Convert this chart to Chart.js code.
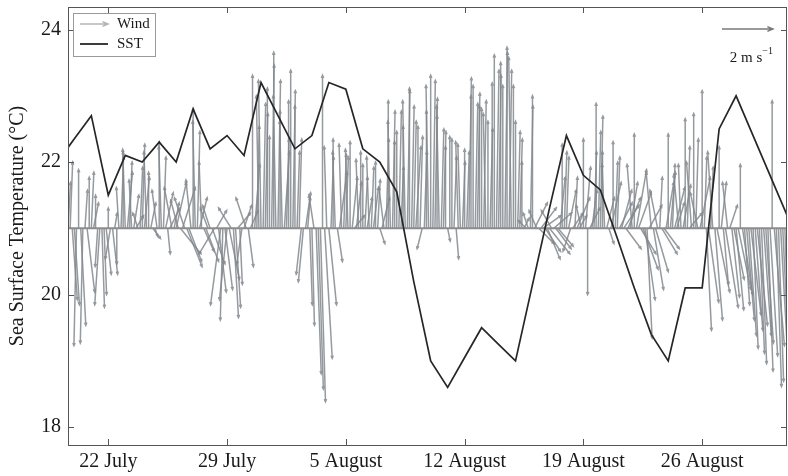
<!DOCTYPE html>
<html>
<head>
<meta charset="utf-8">
<script src="https://cdn.jsdelivr.net/npm/chart.js@4.4.0/dist/chart.umd.min.js"></script>
<style>
  html, body { margin: 0; padding: 0; background: #fff; }
</style>
</head>
<body>
<canvas id="sstChart" width="788" height="476"></canvas>
<script>
// days counted from 1 July (1 August = 32)
const sstDay = [19, 20, 21, 22, 23, 24, 25, 26, 27, 28, 29, 30, 31, 32, 33, 34, 35, 36, 37, 38, 39, 40,
                41, 42, 43, 44, 45, 46, 47, 48, 49, 50, 51, 52, 53, 54, 55, 56, 57, 58, 59, 60, 61, 62];
const sstValue = [22.0, 22.35, 22.7, 21.5, 22.1, 22.0, 22.3, 22.0, 22.8, 22.2, 22.4, 22.1, 23.2, 22.7, 22.2, 22.4,
                  23.2, 23.1, 22.2, 22.0, 21.55, 20.2, 19.0, 18.6, 19.05, 19.5, 19.25, 19.0, 20.15, 21.3, 22.4,
                  21.8, 21.58, 20.85, 20.1, 19.4, 19.0, 20.1, 20.1, 22.5, 23.0, 22.4, 21.8, 21.2];

// wind samples, 3-hourly: one row per day, columns = windHour
const windDay = [19, 20, 21, 22, 23, 24, 25, 26, 27, 28, 29, 30, 31, 32, 33, 34, 35, 36, 37, 38, 39, 40,
                 41, 42, 43, 44, 45, 46, 47, 48, 49, 50, 51, 52, 53, 54, 55, 56, 57, 58, 59, 60, 61, 62];
const windHour = [0, 3, 6, 9, 12, 15, 18, 21];
// northward component (m/s)
const windV = [
  [null, null, null, null, null, 1.8, 2.6, -2.8],
  [-3.0, -4.6, 2.3, -3.8, -4.5, 1.5, -2.5, 2.0],
  [2.2, 1.0, 1.3, -1.5, -3.0, -3.1, -2.6, -1.8],
  [0.8, -1.2, -1.8, 0.6, -1.4, 1.6, 2.8, 3.0],
  [3.1, 2.2, 2.6, 1.9, 1.3, 0.5, 0.6, 2.4],
  [3.3, 2.0, 3.0, 2.2, 1.0, -0.4, -0.3, 1.5],
  [3.4, 3.2, 2.8, 1.4, -1.0, 0.8, 1.6, 1.0],
  [1.8, 1.1, -1.0, 1.6, 1.2, -1.5, -1.3, 1.9],
  [4.7, 4.2, 3.8, 1.2, 2.6, -0.9, -1.3, 0.8],
  [0.9, -1.4, -1.0, 0.7, -2.5, -3.0, -3.6, -2.4],
  [-2.8, -2.0, 0.8, -3.5, -3.1, 0.6, -2.2, -1.4],
  [0.9, 1.2, -1.5, 0.7, 6.0, 2.5, 4.0, 5.2],
  [5.8, 4.9, 4.5, 5.5, 3.6, 6.4, 6.9, 5.2],
  [5.8, 4.6, 4.2, 3.0, 3.5, 5.0, 6.2, 5.4],
  [4.8, 3.0, 3.5, -1.8, -2.1, 1.4, 1.2, -3.0],
  [-3.8, 1.3, -5.7, -6.3, -6.8, 6.0, -5.1, 3.2],
  [-3.0, 2.8, 3.5, 3.0, -1.3, 2.2, 3.3, 2.9],
  [2.8, 3.1, 3.4, 2.0, 0.5, 1.8, 2.7, 3.0],
  [2.5, 2.0, 1.2, 2.8, 2.4, 1.6, 2.6, 1.9],
  [-0.6, 1.2, 1.6, 3.5, 5.0, 4.2, 4.6, 3.4],
  [3.8, 4.6, 2.4, 4.0, 5.0, 5.4, 5.5, 4.8],
  [4.2, 3.2, 4.0, 3.6, -0.8, 3.0, 4.6, 5.6],
  [6.0, 5.8, 5.1, 4.4, 4.8, 3.9, 3.8, 3.2],
  [-0.5, 3.6, 3.5, 2.8, -1.2, 3.4, 3.3, 2.6],
  [3.1, 3.0, 5.9, 5.2, 5.6, 4.9, 5.3, 4.8],
  [4.7, 5.0, 4.5, 4.2, 3.9, 5.7, 6.8, 6.2],
  [6.0, 6.5, 5.6, 6.9, 7.1, 6.2, 6.7, 5.6],
  [4.2, 3.8, 3.5, 2.6, 0.4, 0.3, 0.6, 4.8],
  [5.2, 1.0, 0.7, -0.6, 0.8, 0.5, -0.9, -1.2],
  [-1.0, 0.7, 0.6, -0.8, -0.7, 2.0, 3.3, 3.0],
  [2.8, 1.5, -0.9, 0.6, 2.0, 1.2, 0.5, 0.9],
  [3.5, 2.4, -2.6, 0.8, 1.5, 3.0, 4.9, 3.8],
  [4.4, 3.0, 2.5, 1.2, -0.6, 1.8, 3.4, 2.6],
  [2.8, 1.0, 1.5, 0.9, -0.8, 1.2, 1.8, 2.5],
  [3.7, 2.3, 1.4, -1.0, -1.6, -2.8, -4.3, 0.9],
  [2.2, -2.4, -1.7, 1.5, 2.0, -1.0, -0.8, 1.8],
  [3.7, 2.2, 2.5, 1.6, 1.0, 2.1, 2.5, 1.7],
  [4.3, 3.2, 0.6, 2.6, 4.5, 3.5, 1.4, 2.0],
  [5.4, 2.8, -4.0, -2.9, 2.4, 3.0, -3.6, -2.5],
  [3.2, 1.8, -2.2, -3.1, 1.8, 0.9, -2.7, -2.0],
  [-3.2, -2.4, 2.5, -2.6, -3.0, -3.6, -4.2, -3.4],
  [-4.7, -4.0, -3.8, -4.9, -5.3, -4.2, -4.5, -5.6],
  [-5.0, 5.0, -4.6, -6.2, -6.0, -5.4, -6.3, -5.8],
  [-5.0]
];
// eastward component (m/s)
const windU = [
  [null, null, null, null, null, 0.1, 0.1, 0.2],
  [0.2, -0.1, 0.0, 0.2, -0.1, 0.1, 0.3, 0.0],
  [0.1, 0.2, 0.0, -0.1, -0.2, 0.1, 0.1, 0.2],
  [0.0, -0.2, 0.2, 0.1, 0.0, -0.1, 0.1, 0.0],
  [-0.1, 0.2, 0.1, -0.1, 0.2, 0.3, -0.2, 0.1],
  [0.1, 0.2, -0.1, 0.0, 0.2, 0.3, 0.1, -0.2],
  [0.0, -0.1, 0.1, 0.3, 0.1, 0.4, -0.3, 0.2],
  [0.4, -0.3, 0.8, 0.5, -0.4, 0.6, 0.5, -0.2],
  [0.0, -0.1, 0.1, 0.3, -0.1, 0.4, 0.5, -0.3],
  [-0.3, 0.5, -0.6, 0.4, 0.3, -0.4, -0.1, 0.3],
  [-0.3, 0.4, -0.5, 0.2, 0.2, 0.5, 0.1, -0.2],
  [0.3, -0.4, 0.2, 0.3, 0.0, 0.2, 0.1, -0.1],
  [-0.1, 0.1, 0.1, 0.0, 0.0, 0.1, 0.0, -0.1],
  [0.1, 0.0, -0.1, 0.2, 0.1, 0.0, 0.0, 0.1],
  [0.0, 0.1, 0.1, -0.2, -0.2, 0.2, 0.1, 0.1],
  [0.1, -0.2, 0.2, 0.2, 0.2, 0.0, 0.3, -0.1],
  [0.3, 0.1, 0.0, -0.1, 0.2, 0.3, -0.1, 0.1],
  [0.1, -0.1, 0.0, 0.2, 0.4, 0.2, -0.1, 0.0],
  [0.0, 0.1, 0.2, -0.1, 0.1, 0.2, 0.0, 0.1],
  [0.2, 0.3, -0.2, 0.1, 0.0, -0.1, 0.1, 0.0],
  [0.0, 0.1, 0.1, 0.0, -0.1, 0.1, 0.0, 0.1],
  [0.1, 0.2, 0.0, 0.1, -0.2, 0.1, 0.0, -0.1],
  [0.0, 0.1, 0.1, 0.0, -0.1, 0.1, 0.1, 0.0],
  [0.1, 0.0, 0.0, 0.1, 0.1, -0.1, -0.1, 0.1],
  [0.0, 0.1, 0.1, 0.0, 0.0, 0.1, 0.1, 0.0],
  [0.0, 0.1, -0.1, 0.0, 0.1, 0.0, 0.0, 0.1],
  [0.1, 0.0, 0.0, 0.1, 0.0, 0.1, -0.1, 0.0],
  [0.0, 0.1, 0.1, 0.0, 0.2, -0.3, -0.2, 0.1],
  [0.0, 0.5, -0.3, 0.6, 0.6, 0.7, 0.6, 0.5],
  [0.8, -0.4, 0.7, 0.6, 0.6, 0.2, 0.0, 0.1],
  [0.1, 0.3, -0.3, 0.4, 0.1, 0.5, 0.3, -0.2],
  [0.0, 0.2, 0.0, 0.4, 0.2, 0.1, 0.0, 0.1],
  [0.1, 0.0, -0.1, 0.3, 0.2, 0.4, 0.0, 0.1],
  [0.1, 0.5, 0.4, 0.6, 0.6, 0.5, 0.3, -0.2],
  [0.0, 0.4, 0.5, 0.6, 0.6, 0.4, 0.2, 0.5],
  [-0.2, 0.4, 0.5, -0.3, 0.1, 0.6, 0.6, 0.3],
  [0.0, 0.2, 0.1, 0.4, 0.3, -0.2, -0.1, 0.3],
  [0.0, 0.1, 0.5, -0.2, 0.0, 0.1, -0.3, 0.4],
  [0.0, 0.1, 0.2, 0.4, 0.1, -0.2, 0.3, 0.5],
  [0.0, 0.2, 0.2, 0.5, -0.2, 0.3, 0.3, 0.4],
  [0.3, 0.5, 0.0, 0.4, 0.2, 0.3, 0.3, 0.4],
  [0.2, 0.3, 0.4, 0.2, 0.2, 0.3, 0.3, 0.2],
  [0.3, 0.0, 0.4, 0.2, 0.2, 0.3, 0.3, 0.2],
  [0.2]
];

const tickDays = [22, 29, 36, 43, 50, 57];
const tickLabels = ['22 July', '29 July', '5 August', '12 August', '19 August', '26 August'];
const yTicks = [18, 20, 22, 24];
const windBase = 21;     // sticks start on the 21 °C line
const keySpeed = 2;      // reference arrow, m/s

// 1 m/s drawn as 1.5 days across or 0.385 °C up
const DAYS_PER_MS = 1.5;
const DEG_PER_MS = 0.385;
const serif = '"Liberation Serif", "Times New Roman", serif';

function arrow(ctx, x0, y0, x1, y1, head) {
    const dx = x1 - x0, dy = y1 - y0;
    const len = Math.hypot(dx, dy);
    if (len < 0.5) return;
    const h = Math.min(head, len * 0.3);
    const a = Math.atan2(dy, dx);
    ctx.beginPath();
    ctx.moveTo(x0, y0);
    ctx.lineTo(x1, y1);
    ctx.moveTo(x1 - h * Math.cos(a - 0.4), y1 - h * Math.sin(a - 0.4));
    ctx.lineTo(x1, y1);
    ctx.lineTo(x1 - h * Math.cos(a + 0.4), y1 - h * Math.sin(a + 0.4));
    ctx.stroke();
}

const windPlugin = {
    id: 'wind',
    beforeDatasetsDraw(chart) {
        const { ctx, chartArea: a, scales: { x, y } } = chart;
        ctx.save();
        ctx.beginPath();
        ctx.rect(a.left, a.top, a.width, a.height);
        ctx.clip();
        ctx.strokeStyle = 'rgba(130,136,142,0.85)';
        ctx.lineWidth = 1.5;
        windDay.forEach((d, i) => {
            windV[i].forEach((v, j) => {
                if (v === null) return;
                const t = d + windHour[j] / 24;
                const u = windU[i][j];
                arrow(ctx,
                    x.getPixelForValue(t), y.getPixelForValue(windBase),
                    x.getPixelForValue(t + u * DAYS_PER_MS), y.getPixelForValue(windBase + v * DEG_PER_MS), 3);
            });
        });
        // zero line of the stick plot
        const yb = y.getPixelForValue(windBase);
        ctx.strokeStyle = '#8c8c8c';
        ctx.lineWidth = 2;
        ctx.beginPath();
        ctx.moveTo(a.left, yb);
        ctx.lineTo(a.right, yb);
        ctx.stroke();
        ctx.restore();
    },
    afterDraw(chart) {
        const { ctx, chartArea: a, scales: { x, y } } = chart;
        ctx.save();
        // frame
        ctx.strokeStyle = '#555';
        ctx.lineWidth = 1;
        ctx.strokeRect(a.left + 0.5, a.top + 0.5, a.width - 1, a.height);
        // inward ticks
        ctx.beginPath();
        tickDays.forEach(d => {
            const px = Math.round(x.getPixelForValue(d)) + 0.5;
            ctx.moveTo(px, a.bottom); ctx.lineTo(px, a.bottom - 6);
            ctx.moveTo(px, a.top); ctx.lineTo(px, a.top + 6);
        });
        yTicks.forEach(v => {
            const py = Math.round(y.getPixelForValue(v)) + 0.5;
            ctx.moveTo(a.left, py); ctx.lineTo(a.left + 6, py);
            ctx.moveTo(a.right, py); ctx.lineTo(a.right - 6, py);
        });
        ctx.stroke();

        // legend
        const lx = a.left + 5, ly = a.top + 6;
        ctx.fillStyle = '#fff';
        ctx.fillRect(lx, ly, 82, 43);
        ctx.strokeStyle = '#9a9a9a';
        ctx.strokeRect(lx + 0.5, ly + 0.5, 82, 43);
        ctx.strokeStyle = '#b5b5b5';
        ctx.lineWidth = 1.5;
        arrow(ctx, lx + 7, ly + 11, lx + 35, ly + 11, 6);
        ctx.strokeStyle = '#262626';
        ctx.lineWidth = 1.8;
        ctx.beginPath();
        ctx.moveTo(lx + 7, ly + 31); ctx.lineTo(lx + 35, ly + 31);
        ctx.stroke();
        ctx.fillStyle = '#1a1a1a';
        ctx.font = '15px ' + serif;
        ctx.textBaseline = 'middle';
        ctx.textAlign = 'left';
        ctx.fillText('Wind', lx + 44, ly + 11);
        ctx.fillText('SST', lx + 44, ly + 31);

        // speed key
        const t0 = x.getValueForPixel(a.right - 65);
        const kx0 = x.getPixelForValue(t0);
        const kx1 = x.getPixelForValue(t0 + keySpeed * DAYS_PER_MS);
        const ky = a.top + 22;
        ctx.strokeStyle = '#7a7a7a';
        ctx.lineWidth = 1.5;
        arrow(ctx, kx0, ky, kx1, ky, 6);
        ctx.fillStyle = '#1a1a1a';
        ctx.textBaseline = 'alphabetic';
        ctx.font = '10px ' + serif;
        const sup = '\u22121';
        const supW = ctx.measureText(sup).width;
        ctx.textAlign = 'right';
        ctx.fillText(sup, kx1, ky + 25);
        ctx.font = '15px ' + serif;
        ctx.fillText('2 m s', kx1 - supW, ky + 33);
        ctx.restore();
    }
};

new Chart(document.getElementById('sstChart'), {
    type: 'line',
    data: {
        datasets: [{
            label: 'SST',
            data: sstDay.map((d, i) => ({ x: d, y: sstValue[i] })),
            borderColor: '#262626',
            borderWidth: 1.7,
            pointRadius: 0,
            tension: 0
        }]
    },
    options: {
        responsive: false,
        animation: false,
        layout: { padding: { top: 0, right: 1, left: 0, bottom: 0 } },
        plugins: {
            legend: { display: false },
            tooltip: { enabled: false }
        },
        scales: {
            x: {
                type: 'linear',
                min: 19.625,
                max: 62,
                grid: { display: false, drawTicks: false },
                border: { display: false },
                afterBuildTicks: s => { s.ticks = tickDays.map(v => ({ value: v })); },
                afterFit: s => { s.height = 31; },
                ticks: {
                    autoSkip: false,
                    maxRotation: 0,
                    padding: 5,
                    color: '#1a1a1a',
                    font: { family: serif, size: 20 },
                    callback: v => tickLabels[tickDays.indexOf(v)]
                }
            },
            y: {
                min: 17.73,
                max: 24.34,
                grid: { display: false, drawTicks: false },
                border: { display: false },
                afterBuildTicks: s => { s.ticks = yTicks.map(v => ({ value: v })); },
                afterFit: s => { s.width = 68; s.paddingTop = 7; s.paddingBottom = 0; },
                ticks: {
                    padding: 7,
                    color: '#1a1a1a',
                    font: { family: serif, size: 20 }
                },
                title: {
                    display: true,
                    text: 'Sea Surface Temperature (°C)',
                    color: '#1a1a1a',
                    font: { family: serif, size: 20 },
                    padding: { top: 6, bottom: 0 }
                }
            }
        }
    },
    plugins: [windPlugin]
});
</script>
</body>
</html>
